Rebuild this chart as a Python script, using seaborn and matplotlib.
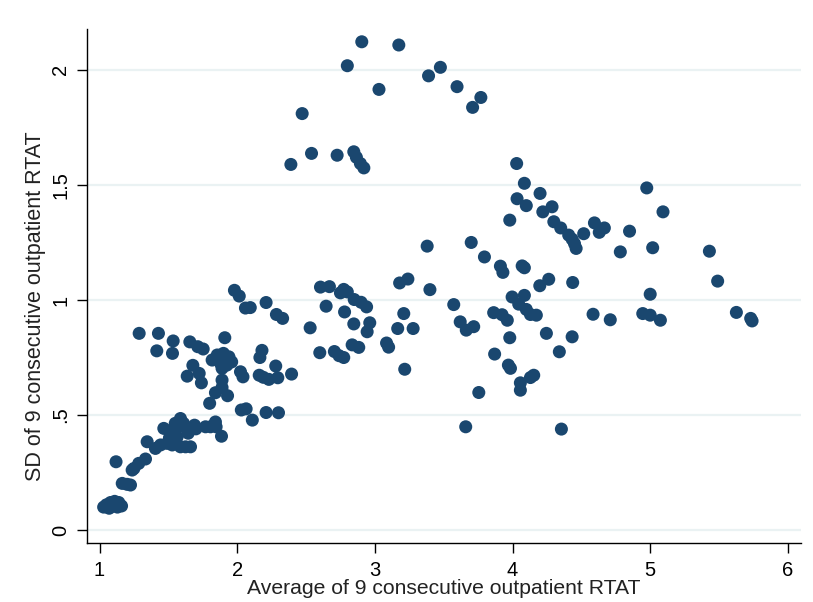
import matplotlib
matplotlib.use("Agg")
import matplotlib.pyplot as plt
import seaborn as sns
import pandas as pd

# Average of 9 consecutive outpatient RTAT (x) and its SD (y)
avg_rtat = [
    1.03, 1.05, 1.07, 1.08, 1.10, 1.11, 1.13, 1.14, 1.16, 1.12,
    1.12, 1.165, 1.20, 1.225, 1.237, 1.25, 1.285, 1.334,
    1.346, 1.406, 1.443, 1.49, 1.508, 1.528, 1.564, 1.588, 1.625, 1.661,
    1.467, 1.54, 1.55, 1.575, 1.588, 1.61, 1.644, 1.69, 1.70, 1.77,
    1.806, 1.842, 1.847, 1.886,
    1.288, 1.428, 1.535, 1.416, 1.53, 1.656, 1.714, 1.753, 1.678, 1.637,
    1.724, 1.74,
    1.91, 1.818, 1.855, 1.90, 1.94, 1.96, 1.925, 1.88, 1.89, 1.87,
    1.93, 1.89, 1.89, 1.842, 1.93, 1.80,
    1.98, 2.015, 2.06, 2.095, 2.21, 2.285, 2.33, 2.165, 2.18, 2.28,
    2.024, 2.042, 2.16, 2.19, 2.23, 2.295, 2.395, 2.03, 2.065, 2.11,
    2.21, 2.30,
    2.53, 2.60, 2.706, 2.74, 2.774, 2.646, 2.605, 2.67, 2.75, 2.774,
    2.80, 2.85, 2.90, 2.94, 2.78, 2.847, 2.963, 2.944, 2.835, 2.883,
    3.085, 3.10, 3.166, 3.278, 3.21, 3.18, 3.24, 3.40, 3.217, 3.38,
    2.905, 3.174, 2.80, 3.03, 3.39, 3.476, 3.597, 3.71, 3.77, 2.472,
    2.39, 2.54, 2.726, 2.847, 2.866, 2.895, 2.92,
    4.03, 4.086, 4.033, 4.10, 3.98, 4.20, 4.287, 4.22, 4.30, 4.35,
    4.408, 4.433, 4.45, 4.462, 4.517, 4.595, 4.63, 4.667, 4.85, 4.783,
    4.975, 5.093, 5.018, 5.43, 5.49, 5.00, 4.71, 4.946, 5.00, 5.074,
    5.626, 5.73, 5.74, 4.585,
    3.70, 3.796, 3.912, 3.93, 4.07, 4.086, 4.198, 4.263, 4.437, 3.997,
    4.086, 3.573, 4.045, 4.10, 4.13, 4.173, 3.863, 3.924, 3.962, 3.62,
    3.664, 3.718, 3.98, 4.246, 4.433, 4.34, 3.87, 3.97, 3.985, 4.13,
    4.154, 4.057, 4.057, 3.755, 3.66, 4.355,
]
sd_rtat = [
    0.100, 0.110, 0.095, 0.120, 0.105, 0.125, 0.100, 0.120, 0.105, 0.110,
    0.297, 0.203, 0.199, 0.196, 0.261, 0.268, 0.290, 0.309,
    0.384, 0.355, 0.370, 0.377, 0.401, 0.370, 0.405, 0.362, 0.362, 0.362,
    0.442, 0.442, 0.464, 0.449, 0.485, 0.464, 0.421, 0.456, 0.440, 0.449,
    0.449, 0.470, 0.449, 0.408,
    0.855, 0.855, 0.822, 0.779, 0.768, 0.818, 0.797, 0.787, 0.716, 0.669,
    0.681, 0.640,
    0.836, 0.739, 0.761, 0.768, 0.753, 0.731, 0.717, 0.724, 0.703, 0.750,
    0.740, 0.652, 0.620, 0.597, 0.584, 0.551,
    1.042, 1.017, 0.965, 0.967, 0.989, 0.937, 0.920, 0.750, 0.781, 0.713,
    0.688, 0.666, 0.673, 0.664, 0.655, 0.662, 0.678, 0.522, 0.527, 0.478,
    0.511, 0.510,
    0.879, 0.771, 0.776, 0.758, 0.750, 0.973, 1.056, 1.058, 1.031, 1.046,
    1.035, 1.002, 0.990, 0.970, 0.948, 0.896, 0.901, 0.862, 0.805, 0.794,
    0.813, 0.795, 0.876, 0.876, 0.941, 1.074, 1.091, 1.045, 0.699, 1.234,
    2.122, 2.108, 2.018, 1.915, 1.974, 2.011, 1.927, 1.837, 1.880, 1.810,
    1.589, 1.637, 1.629, 1.644, 1.620, 1.593, 1.574,
    1.593, 1.507, 1.440, 1.410, 1.347, 1.463, 1.405, 1.383, 1.340, 1.313,
    1.282, 1.264, 1.245, 1.224, 1.288, 1.335, 1.294, 1.313, 1.299, 1.209,
    1.487, 1.383, 1.227, 1.212, 1.082, 1.025, 0.914, 0.941, 0.934, 0.912,
    0.946, 0.920, 0.909, 0.938,
    1.250, 1.187, 1.147, 1.120, 1.148, 1.140, 1.062, 1.090, 1.076, 1.013,
    1.020, 0.980, 0.982, 0.959, 0.937, 0.934, 0.945, 0.936, 0.912, 0.905,
    0.869, 0.884, 0.836, 0.855, 0.840, 0.775, 0.765, 0.717, 0.703, 0.663,
    0.673, 0.640, 0.608, 0.598, 0.449, 0.439,
]

x_ticks = [1, 2, 3, 4, 5, 6]
y_ticks = [0, 0.5, 1, 1.5, 2]
y_tick_labels = ["0", ".5", "1", "1.5", "2"]

df = pd.DataFrame({"avg": avg_rtat, "sd": sd_rtat})

sns.set_theme(style="white")
plt.rcParams["font.family"] = ["Liberation Sans", "DejaVu Sans"]

fig = plt.figure(figsize=(8.13, 6.02), dpi=100)
ax = fig.add_axes([0.107, 0.098, 0.878, 0.854])

sns.scatterplot(data=df, x="avg", y="sd", ax=ax, color="#1a476f",
                s=88, edgecolor="none", zorder=3, legend=False)

ax.set_xlim(0.909, 6.094)
ax.set_ylim(-0.056, 2.178)
ax.set_xticks(x_ticks)
ax.set_xticklabels([str(t) for t in x_ticks])
ax.set_yticks(y_ticks)
ax.set_yticklabels(y_tick_labels, rotation=90, va="center")

for yv in y_ticks:
    ax.axhline(yv, color="#eaf2f3", lw=1.6, zorder=1)

for side in ("top", "right"):
    ax.spines[side].set_visible(False)
for side in ("left", "bottom"):
    ax.spines[side].set_color("black")
    ax.spines[side].set_linewidth(1.0)

ax.tick_params(axis="both", direction="out", length=7, width=1.0,
               color="black", labelsize=14.5, labelcolor="black",
               bottom=True, left=True)
ax.tick_params(axis="x", pad=6)
ax.tick_params(axis="y", pad=5)

ax.set_xlabel("Average of 9 consecutive outpatient RTAT", fontsize=15.2,
              color="#222222", labelpad=-1)
ax.set_ylabel("SD of 9 consecutive outpatient RTAT", fontsize=15.5,
              color="#222222")
ax.yaxis.set_label_coords(-0.057, 0.46)

fig.savefig("out.png", dpi=100, facecolor="white")
